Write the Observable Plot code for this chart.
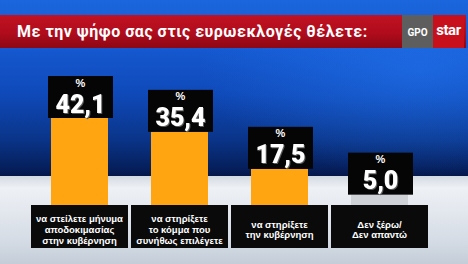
<!DOCTYPE html>
<html>
<head>
<meta charset="utf-8">
<script src="https://cdn.jsdelivr.net/npm/d3@7"></script>
<script src="https://cdn.jsdelivr.net/npm/@observablehq/plot@0.6"></script>
<style>
  html, body { margin: 0; padding: 0; }
  body { width: 468px; height: 264px; overflow: hidden; font-family: Roboto, "Noto Sans", sans-serif; }
  #frame {
    position: relative; width: 468px; height: 264px; overflow: hidden;
    background: linear-gradient(to bottom,
      #1b66dc 0px, #1558d0 48px, #0f49b8 95px, #0a3488 140px, #061f5c 168px, #04174a 176px,
      #d3dae3 176px, #eef1f5 188px, #e6eaf0 205px, #d5dce5 240px, #c4cdd8 264px);
  }
  #glow {
    position: absolute; left: 0; top: 48px; width: 468px; height: 128px;
    background: radial-gradient(ellipse 220px 110px at 420px 20px, rgba(40,130,255,0.45), rgba(40,130,255,0) 100%);
  }
  #header { position: relative; height: 48px; }
  #titlebar {
    position: absolute; left: 0; top: 15px; width: 466px; height: 33px;
    background: linear-gradient(to bottom, #c01222 0%, #b00c1c 55%, #8c0714 100%);
  }
  #title {
    position: absolute; left: 17px; top: 0; height: 33px; line-height: 33px;
    color: #fff; font-weight: 700; font-size: 16px; white-space: nowrap; letter-spacing: 0.5px;
  }
  #gpo {
    position: absolute; left: 402px; top: 0; width: 31px; height: 33px; background: #5e5e5e;
    color: #fff; font-size: 10px; font-weight: 700; line-height: 35px; text-align: center;
  }
  #star {
    position: absolute; left: 433px; top: 0; width: 31px; height: 33px; background: #c80f1c;
    color: #fff; font-size: 15px; font-weight: 700; line-height: 31px; text-align: center; letter-spacing: -0.5px;
  }
  #chart { position: relative; }
  #chart svg { display: block; overflow: visible; }
</style>
</head>
<body>
<div id="frame">
  <div id="glow"></div>
  <div id="header">
    <div id="titlebar">
      <div id="title">Με την ψήφο σας στις ευρωεκλογές θέλετε:</div>
      <div id="gpo">GPO</div>
      <div id="star">star</div>
    </div>
  </div>
  <div id="chart"></div>
</div>
<script>
// ---- data ----
const categories = [
  "να στείλετε μήνυμα\nαποδοκιμασίας\nστην κυβέρνηση",
  "να στηρίξετε\nτο κόμμα που\nσυνήθως επιλέγετε",
  "να στηρίξετε\nτην κυβέρνηση",
  "Δεν ξέρω/\nΔεν απαντώ"
];
const values = [42.1, 35.4, 17.5, 5.0];
const valueLabels = ["42,1", "35,4", "17,5", "5,0"];
const kinds = ["option", "option", "option", "undecided"];

const data = categories.map((c, i) => ({cat: c, value: values[i], label: valueLabels[i], kind: kinds[i]}));

const chart = Plot.plot({
  width: 468,
  height: 216,
  marginTop: 70,
  marginBottom: 59,
  marginLeft: 29,
  marginRight: 37,
  x: {domain: categories, axis: null, padding: 0},
  y: {domain: [0, 42.1], axis: null},
  color: {domain: ["option", "undecided"], range: ["#ffa512", "#cfd3d8"]},
  style: {background: "transparent", overflow: "visible"},
  marks: [
    // bars
    Plot.barY(data, {x: "cat", y1: 0, y2: "value", fill: "kind", insetLeft: 21, insetRight: 22, insetBottom: -2}),
    // value boxes
    Plot.barY(data, {x: "cat", y1: "value", y2: "value", insetLeft: 18, insetRight: 17, insetTop: -42, fill: "#050505"}),
    // category boxes
    Plot.barY(data, {x: "cat", y1: 0, y2: 0, insetLeft: 1, insetRight: 2, insetBottom: -43, fill: "#0a0a0a"}),
    // percent sign
    Plot.text(data, {x: "cat", y: "value", text: () => "%", dy: -35.5, fill: "#fff", fontSize: 11, fontWeight: 700, fontFamily: "'Liberation Sans', Arial, sans-serif"}),
    // value labels
    Plot.text(data, {x: "cat", y: "value", text: "label", dy: -14, fill: "#fff", fontSize: 25, fontWeight: 900, fontFamily: "Roboto, sans-serif"}),
    // category labels
    Plot.text(data, {x: "cat", y: 0, text: "cat", dy: 24, dx: -1, fill: "#fff", fontSize: 9.5, fontWeight: 700, lineHeight: 1.12, fontFamily: "'Liberation Sans', Arial, sans-serif"})
  ]
});
// drop shadow on the big value labels
const textGroups = chart.querySelectorAll('g[aria-label="text"]');
if (textGroups[1]) textGroups[1].style.filter = "drop-shadow(1.5px 1.5px 0px #5a5a5a)";
document.getElementById("chart").appendChild(chart);
</script>
</body>
</html>
